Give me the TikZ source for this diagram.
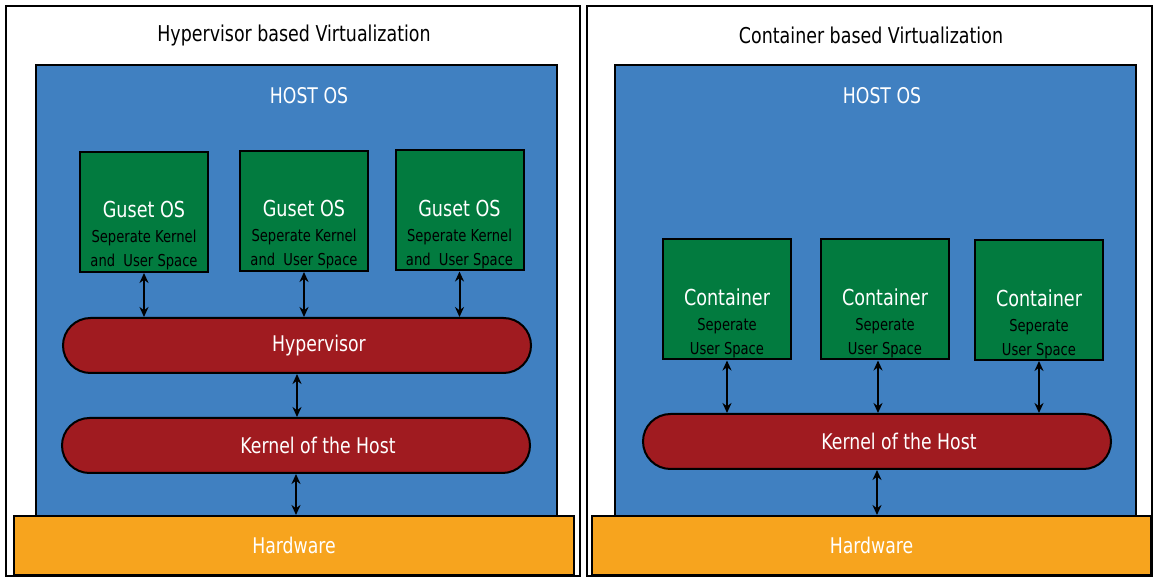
\documentclass[tikz,border=0pt]{standalone}
\usepackage{fontspec}
\setmainfont{DejaVu Sans}[FakeStretch=0.8]
\usepackage{tikz}
\usetikzlibrary{positioning,arrows,arrows.meta}
\definecolor{hostblue}{RGB}{64,128,193}
\definecolor{guestgreen}{RGB}{2,123,63}
\definecolor{kernred}{RGB}{160,27,32}
\definecolor{hwyellow}{RGB}{247,164,30}

\begin{document}
\begin{tikzpicture}[x=0.5pt,y=-0.5pt,
        frame/.style={draw,line width=1pt,fill=white,minimum height=285pt},
        host/.style={draw,line width=1pt,fill=hostblue,minimum width=260.5pt,minimum height=226pt},
        guest/.style={draw,line width=1pt,fill=guestgreen,minimum width=64pt,minimum height=60pt},
        pill/.style={draw,line width=1pt,fill=kernred,rounded corners=13.75pt,
          minimum width=234pt,minimum height=27.5pt,
          label={[text=white,xshift=11pt,font=\fontsize{10.8}{12}\selectfont]center:#1}},
        hw/.style={draw,line width=1pt,fill=hwyellow,minimum height=29.5pt,text=white,
          font=\fontsize{10.8}{12}\selectfont},
        boxtext/.style={align=center,inner sep=0pt},
        link/.style={{Stealth[length=5pt,width=4.5pt]}-{Stealth[length=5pt,width=4.5pt]},line width=1pt}]
        \useasboundingbox (0,0) rectangle (1153,577);

        % hypervisor side
        \node[frame,minimum width=287pt] (lframe) at (293,291) {};
        \node[font=\fontsize{10.9}{12}\selectfont] (ltitle) at (294,35) {Hypervisor based Virtualization};
        \node[host] (lhost) at (296.5,291) {};
        \node[text=white,font=\fontsize{10.8}{12}\selectfont] (lhostos) at (309,96) {HOST OS};
        \node[guest] (g1) at (144,212) {};
        \node[guest] (g2) at (304,211) {};
        \node[guest] (g3) at (459.5,210.5) {};
        \foreach \g in {g1,g2,g3} {
          \node[boxtext] (\g txt) at ([yshift=-12pt]\g.center)
            {\textcolor{white}{\fontsize{11}{12}\selectfont Guset OS}\\[0.5pt]
             {\fontsize{8.2}{11}\selectfont Seperate Kernel}\\
             {\fontsize{8.2}{10.5}\selectfont and\ \ User Space}};
        }
        \node[pill=Hypervisor] (hyp) at (297,345.5) {};
        \node[pill=Kernel of the Host] (lkern) at (296,445.5) {};
        \node[hw,minimum width=280pt] (lhw) at (294,545.5) {Hardware};
        \foreach \g in {g1,g2,g3}
          \draw[link] (\g.south) -- (\g.south |- hyp.north);
        \draw[link] (hyp.south) -- (hyp.south |- lkern.north);
        \draw[link] (lkern.south) -- (lkern.south |- lhw.north);

        % container side
        \node[frame,minimum width=282.5pt] (rframe) at (869.5,291) {};
        \node[font=\fontsize{10.9}{12}\selectfont] (rtitle) at (871,35) {Container based Virtualization};
        \node[host] (rhost) at (875.5,291) {};
        \node[text=white,font=\fontsize{10.8}{12}\selectfont] (rhostos) at (882,96) {HOST OS};
        \node[guest] (c1) at (727,299.5) {};
        \node[guest] (c2) at (885,299.5) {};
        \node[guest] (c3) at (1039,300) {};
        \foreach \c in {c1,c2,c3} {
          \node[boxtext] (\c txt) at ([yshift=-12pt]\c.center)
            {\textcolor{white}{\fontsize{11}{12}\selectfont Container}\\[0.5pt]
             {\fontsize{8.2}{11}\selectfont Seperate}\\
             {\fontsize{8.2}{10.5}\selectfont User Space}};
        }
        \node[pill=Kernel of the Host] (rkern) at (877,441.5) {};
        \node[hw,minimum width=279.5pt] (rhw) at (871.5,545.5) {Hardware};
        \draw[link] (c1.south) -- (c1.south |- rkern.north);
        \draw[link] ([xshift=-3.5pt]c2.south) -- ([xshift=-3.5pt]c2.south |- rkern.north);
        \draw[link] (c3.south) -- (c3.south |- rkern.north);
        \draw[link] (rkern.south) -- (rkern.south |- rhw.north);
\end{tikzpicture}
\end{document}
